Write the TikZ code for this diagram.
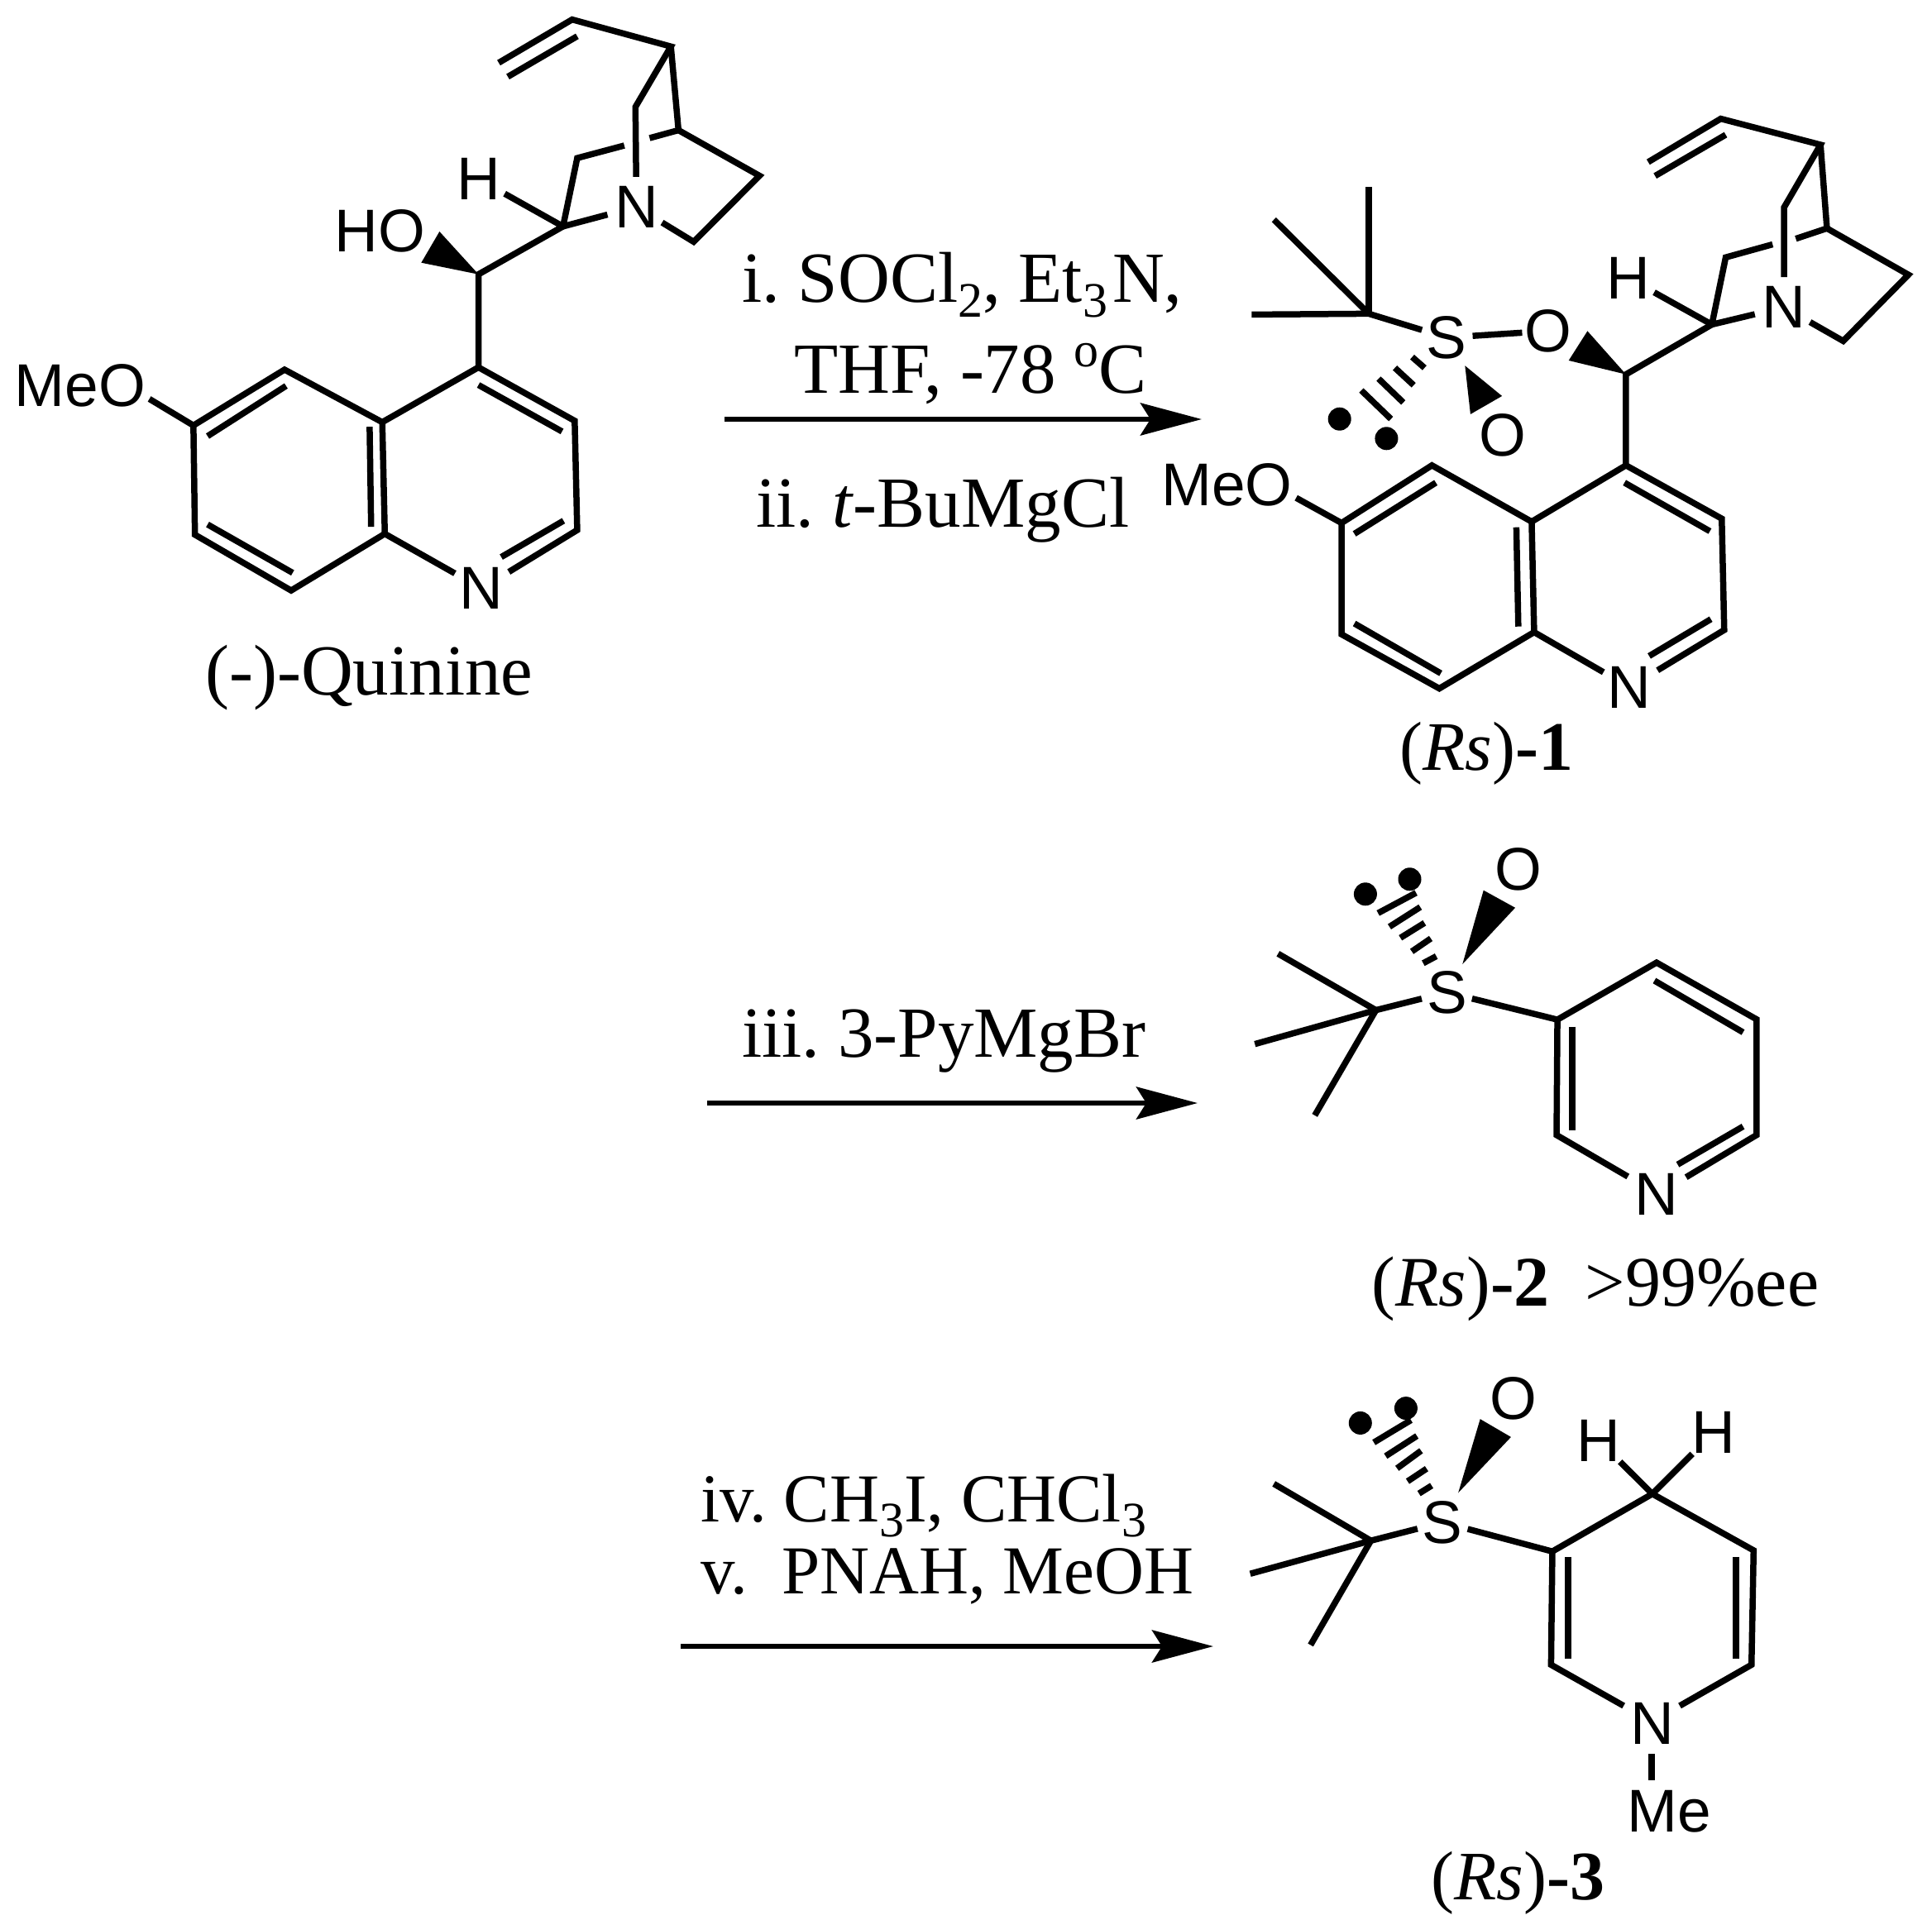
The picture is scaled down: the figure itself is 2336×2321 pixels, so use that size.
\documentclass[tikz,border=0pt]{standalone}
\usepackage{fontspec}
\setmainfont{Liberation Serif}
\setsansfont{Liberation Sans}
\usetikzlibrary{arrows.meta}
\newcommand\subsc[1]{\raisebox{-18pt}{\fontsize{60}{60}\selectfont #1}}
\newcommand\supsc[1]{\raisebox{32pt}{\fontsize{60}{60}\selectfont #1}}
\tikzset{
  bond/.style={line width=7.5pt,line join=miter,line cap=butt},
  wedgebond/.style={fill=black,draw=none},
  hashbar/.style={line width=7.5pt},
  lonedot/.style={circle,fill=black,draw=none,minimum size=28pt,inner sep=0pt},
  atom/.style={circle,inner sep=0pt,outer sep=0pt,font=\fontsize{73}{76}\selectfont\sffamily},
  atomS/.style={atom,outer sep=-4pt},
  atomO/.style={atom,outer sep=-7pt},
  sanslabel/.style={inner sep=0pt,font=\fontsize{73}{76}\selectfont\sffamily},
  reagent/.style={anchor=base west,inner sep=0pt,font=\fontsize{87}{90}\selectfont\frenchspacing},
  compound/.style={anchor=base west,inner sep=0pt,font=\fontsize{84}{88}\selectfont\frenchspacing},
  rxn/.style={line width=6.5pt,-{Stealth[length=74pt,width=39pt,inset=12pt]}}
}
\begin{document}
\begin{tikzpicture}[x=1pt,y=-1pt]
\useasboundingbox (0,0) rectangle (2336,2321);
% ---------- (-)-Quinine
\begin{scope}[x=0.6122pt,y=-0.5623pt]
\node[atom] (qN) at (1257,445) {N};
\node[atom] (qNr) at (950,1265) {N};
\node[atom] (qH) at (945,385) {H};
\node[sanslabel] (qHO) at (750,497) {HO};
\node[sanslabel] (qMeO) at (158,830) {MeO};
\node[reagent] (qName) at (405,1495) {(-)-Quinine};
\coordinate (qv1) at (985,135); \coordinate (qv1b) at (1003,165);
\coordinate (qv2) at (1130,42); \coordinate (qv2b) at (1140,78);
\coordinate (qb) at (1325,100); \coordinate (qc1) at (1255,230);
\coordinate (qc2) at (1340,280); \coordinate (qc3) at (1500,378);
\coordinate (qc4) at (1370,520); \coordinate (qg1) at (1283,297);
\coordinate (qg2) at (1233,313); \coordinate (qc5) at (1140,340);
\coordinate (qc6) at (1112,487); \coordinate (qc7) at (945,590);
\coordinate (qw1) at (868,498); \coordinate (qw2) at (832,565);
\coordinate (qa1) at (945,790); \coordinate (qa2) at (1135,905);
\coordinate (qa3) at (1140,1140); \coordinate (qa4) at (760,1148);
\coordinate (qa5) at (755,908); \coordinate (qa6) at (562,795);
\coordinate (qa7) at (382,915); \coordinate (qa8) at (385,1150);
\coordinate (qa9) at (575,1270); \coordinate (qme) at (295,858);
\coordinate (qi1) at (945,828); \coordinate (qi2) at (1110,928);
\coordinate (qi3) at (1113,1120); \coordinate (qi4) at (990,1198);
\coordinate (qi5) at (730,918); \coordinate (qi6) at (733,1133);
\coordinate (qi7) at (565,830); \coordinate (qi8) at (410,938);
\coordinate (qi9) at (410,1128); \coordinate (qi10) at (578,1232);
\coordinate (qn1) at (1005,1230);
\draw[bond] (qv1) -- (qv2) -- (qb) -- (qc1) -- (qN);
\draw[bond] (qv1b) -- (qv2b);
\draw[bond] (qb) -- (qc2) -- (qc3) -- (qc4) -- (qN);
\draw[bond] (qc2) -- (qg1);
\draw[bond] (qg2) -- (qc5) -- (qc6) -- (qN);
\draw[bond] (qc6) -- (qH);
\draw[bond] (qc6) -- (qc7) -- (qa1) -- (qa2) -- (qa3) -- (qn1);
\draw[wedgebond] (qc7) -- (qw1) -- (qw2) -- cycle;
\draw[bond] (qa1) -- (qa5) -- (qa4) -- (qNr);
\draw[bond] (qa5) -- (qa6) -- (qa7) -- (qa8) -- (qa9) -- (qa4);
\draw[bond] (qa7) -- (qme);
\draw[bond] (qi1) -- (qi2);
\draw[bond] (qi3) -- (qi4);
\draw[bond] (qi5) -- (qi6);
\draw[bond] (qi7) -- (qi8);
\draw[bond] (qi9) -- (qi10);
\end{scope}
% ---------- (Rs)-1
\begin{scope}[shift={(1400pt,-120pt)},x=0.597pt,y=-0.524pt]
\node[atom] (aN) at (1268,480) {N};
\node[atom] (aNr) at (955,1357) {N};
\node[atom] (aH) at (952,412) {H};
\node[atomO] (aO) at (790,535) {O};
\node[atomS] (aS) at (585,550) {S};
\node[atomO] (aOb) at (698,775) {O};
\node[sanslabel] (aMeO) at (140,890) {MeO};
\node[compound] (aName) at (489,1548) {(\textit{Rs})\textbf{-1}};
\coordinate (av1) at (993,145); \coordinate (av1b) at (1007,177);
\coordinate (av2) at (1140,45); \coordinate (av2b) at (1150,82);
\coordinate (ab) at (1342,105); \coordinate (ac1) at (1268,250);
\coordinate (ac2) at (1355,298); \coordinate (ac3) at (1520,405);
\coordinate (ac4) at (1388,558); \coordinate (ag1) at (1292,322);
\coordinate (ag2) at (1245,335); \coordinate (ac5) at (1150,365);
\coordinate (ac6) at (1122,520); \coordinate (ac7) at (948,635);
\coordinate (aw1) at (870,535); \coordinate (aw2) at (832,603);
\coordinate (aa1) at (948,845); \coordinate (aa2) at (1142,968);
\coordinate (aa3) at (1147,1225); \coordinate (aa4) at (762,1230);
\coordinate (aa5) at (757,975); \coordinate (aa6) at (555,845);
\coordinate (aa7) at (372,978); \coordinate (aa8) at (372,1235);
\coordinate (aa9) at (570,1360); \coordinate (ame) at (280,920);
\coordinate (ai1) at (945,885); \coordinate (ai2) at (1118,997);
\coordinate (ai3) at (1120,1200); \coordinate (ai4) at (995,1285);
\coordinate (ai5) at (726,988); \coordinate (ai6) at (730,1217);
\coordinate (ai7) at (563,885); \coordinate (ai8) at (398,1003);
\coordinate (ai9) at (398,1210); \coordinate (ai10) at (573,1325);
\coordinate (an1) at (1012,1318);
\coordinate (at) at (427,495); \coordinate (at1) at (427,203);
\coordinate (at2) at (235,278); \coordinate (at3) at (190,497);
\coordinate (as1) at (622,615); \coordinate (as2) at (697,685); \coordinate (as3) at (633,727);
\draw[bond] (av1) -- (av2) -- (ab) -- (ac1) -- (aN);
\draw[bond] (av1b) -- (av2b);
\draw[bond] (ab) -- (ac2) -- (ac3) -- (ac4) -- (aN);
\draw[bond] (ac2) -- (ag1);
\draw[bond] (ag2) -- (ac5) -- (ac6) -- (aN);
\draw[bond] (ac6) -- (aH);
\draw[bond] (ac6) -- (ac7) -- (aa1) -- (aa2) -- (aa3) -- (an1);
\draw[wedgebond] (ac7) -- (aw1) -- (aw2) -- cycle;
\draw[bond] (aa1) -- (aa5) -- (aa4) -- (aNr);
\draw[bond] (aa5) -- (aa6) -- (aa7) -- (aa8) -- (aa9) -- (aa4);
\draw[bond] (aa7) -- (ame);
\draw[bond] (ai1) -- (ai2);
\draw[bond] (ai3) -- (ai4);
\draw[bond] (ai5) -- (ai6);
\draw[bond] (ai7) -- (ai8);
\draw[bond] (ai9) -- (ai10);
\draw[bond] (at1) -- (at);
\draw[bond] (at2) -- (at);
\draw[bond] (at3) -- (at) -- (aS);
\draw[bond] (aS) -- (aO);
\draw[wedgebond] (as1) -- (as2) -- (as3) -- cycle;
\draw[hashbar] (515,595) -- (540,620);
\draw[hashbar] (480,620) -- (518,660);
\draw[hashbar] (447,645) -- (497,700);
\draw[hashbar] (412,672) -- (472,738);
\node[lonedot] (ad1) at (368,738) {};
\node[lonedot] (ad2) at (463,783) {};
\end{scope}
% ---------- (Rs)-2
\begin{scope}[shift={(1480pt,-1000pt)},x=0.5102pt,y=-0.3834pt]
\node[atom] (bN) at (1025,1160) {N};
\node[atomS] (bS) at (528,522) {S};
\node[atom] (bO) at (697,135) {O};
\node[compound,font=\fontsize{86}{90}\selectfont\frenchspacing] (bName) at (350,1512) {(\textit{Rs})\textbf{-2}\ \ >99\%ee};
\coordinate (bt) at (360,578); \coordinate (bt1) at (128,400);
\coordinate (bt2) at (73,685); \coordinate (bt3) at (215,910);
\coordinate (br1) at (790,608); \coordinate (br2) at (1025,428);
\coordinate (br3) at (1262,607); \coordinate (br4) at (1262,972);
\coordinate (br5) at (788,972); \coordinate (bn1) at (1095,1105);
\coordinate (bn2) at (957,1103);
\coordinate (bi1) at (1020,485); \coordinate (bi2) at (1230,648);
\coordinate (bi3) at (825,630); \coordinate (bi4) at (825,958);
\coordinate (bi5) at (1230,945); \coordinate (bi6) at (1075,1065);
\coordinate (bs1) at (565,433); \coordinate (bs2) at (615,200); \coordinate (bs3) at (690,255);
\draw[bond] (bt1) -- (bt);
\draw[bond] (bt2) -- (bt) -- (bS);
\draw[bond] (bt3) -- (bt);
\draw[bond] (bS) -- (br1) -- (br2) -- (br3) -- (br4) -- (bn1);
\draw[bond] (br1) -- (br5) -- (bn2);
\draw[bond] (bi1) -- (bi2);
\draw[bond] (bi3) -- (bi4);
\draw[bond] (bi5) -- (bi6);
\draw[wedgebond] (bs1) -- (bs2) -- (bs3) -- cycle;
\draw[hashbar] (472,430) -- (503,408);
\draw[hashbar] (445,393) -- (490,352);
\draw[hashbar] (418,350) -- (475,303);
\draw[hashbar] (392,315) -- (465,253);
\draw[hashbar] (365,272) -- (455,208);
\node[lonedot] (bd1) at (335,212) {};
\node[lonedot] (bd2) at (440,165) {};
\end{scope}
% ---------- (Rs)-3
\begin{scope}[shift={(1480pt,-1640pt)},x=0.5102pt,y=-0.4351pt]
\node[atom] (cN) at (1015,1022) {N};
\node[atomS] (cS) at (518,462) {S};
\node[atom] (cO) at (686,117) {O};
\node[atom] (cH1) at (888,235) {H};
\node[atom] (cH2) at (1160,213) {H};
\node[sanslabel] (cMe) at (1055,1265) {Me};
\node[compound] (cName) at (490,1510) {(\textit{Rs})\textbf{-3}};
\coordinate (ct) at (348,513); \coordinate (ct1) at (118,355);
\coordinate (ct2) at (62,605); \coordinate (ct3) at (205,803);
\coordinate (cr1) at (778,543); \coordinate (cr2) at (1015,383);
\coordinate (cr3) at (1255,540); \coordinate (cr4) at (1250,858);
\coordinate (cr5) at (775,858); \coordinate (cn1) at (1080,972);
\coordinate (cn2) at (947,972);
\coordinate (ci1) at (815,558); \coordinate (ci2) at (815,842);
\coordinate (ci3) at (1213,558); \coordinate (ci4) at (1213,842);
\coordinate (cm1) at (1013,1105); \coordinate (cm2) at (1013,1180);
\coordinate (cs1) at (555,380); \coordinate (cs2) at (607,175); \coordinate (cs3) at (680,225);
\draw[bond] (ct1) -- (ct);
\draw[bond] (ct2) -- (ct) -- (cS);
\draw[bond] (ct3) -- (ct);
\draw[bond] (cS) -- (cr1) -- (cr2) -- (cr3) -- (cr4) -- (cn1);
\draw[bond] (cr1) -- (cr5) -- (cn2);
\draw[bond] (cr2) -- (cH1);
\draw[bond] (cr2) -- (cH2);
\draw[bond] (ci1) -- (ci2);
\draw[bond] (ci3) -- (ci4);
\draw[bond] (cm1) -- (cm2);
\draw[wedgebond] (cs1) -- (cs2) -- (cs3) -- cycle;
\draw[hashbar] (462,382) -- (492,360);
\draw[hashbar] (435,348) -- (480,313);
\draw[hashbar] (410,312) -- (467,263);
\draw[hashbar] (383,278) -- (457,222);
\draw[hashbar] (355,240) -- (443,178);
\node[lonedot] (cd1) at (323,186) {};
\node[lonedot] (cd2) at (431,145) {};
\end{scope}
% ---------- reagents and arrows
\node[reagent] (r1) at (897,365) {i. SOCl\subsc{2}, Et\subsc{3}\kern6pt N,};
\node[reagent] (r2) at (960,475) {THF, -78 \supsc{o}C};
\node[reagent] (r3) at (914,637) {ii. \textit{t}-BuMgCl};
\coordinate (ar1s) at (876,507); \coordinate (ar1e) at (1453,507);
\draw[rxn] (ar1s) -- (ar1e);
\node[reagent] (r4) at (897,1278) {iii. 3-PyMgBr};
\coordinate (ar2s) at (855,1334); \coordinate (ar2e) at (1448,1334);
\draw[rxn] (ar2s) -- (ar2e);
\node[reagent,align=left,font=\fontsize{83}{87}\selectfont\frenchspacing] (r5) at (847,1927) {iv. CH\subsc{3}I, CHCl\subsc{3}\\v.\ \ PNAH, MeOH};
\coordinate (ar3s) at (823,1991); \coordinate (ar3e) at (1467,1991);
\draw[rxn] (ar3s) -- (ar3e);
\end{tikzpicture}
\end{document}
